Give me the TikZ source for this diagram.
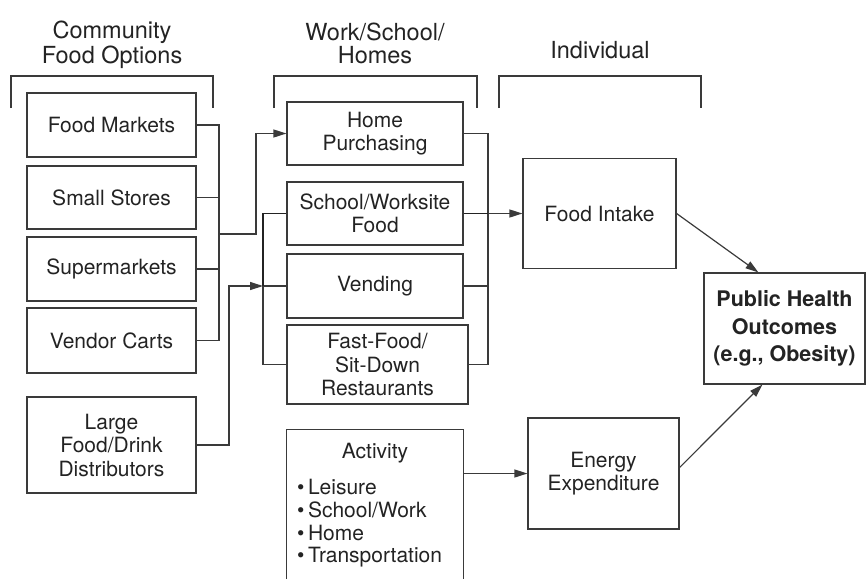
\documentclass[tikz,border=0pt]{standalone}
\usepackage{fontspec}
\setmainfont{TeX Gyre Heros}
\usetikzlibrary{arrows.meta}
\definecolor{ink}{HTML}{232323}
\definecolor{linegray}{HTML}{3a3a3a}
\begin{document}
\begin{tikzpicture}[x=1pt,y=-1pt,
  box/.style={draw=linegray, line width=1.2pt, inner sep=0pt, align=center,
    text=ink, font=\fontsize{21}{23.5}\selectfont},
  head/.style={inner sep=0pt, anchor=base, text=ink, font=\fontsize{23.5}{27}\selectfont},
  item/.style={inner sep=0pt, anchor=base west, text=ink, font=\fontsize{21}{23.5}\selectfont},
  link/.style={draw=linegray, line width=1.2pt},
  heavy/.style={draw=ink, line width=1.7pt},
  tip/.style={-{Triangle[length=13pt,width=8pt]}}
]
\useasboundingbox (0,0) rectangle (866,579);

% column headings
\node[head] (hcomA) at (112,38) {Community};
\node[head] (hcomB) at (112,63) {Food Options};
\node[head] (hwsA) at (375,40) {Work/School/};
\node[head] (hwsB) at (375,63) {Homes};
\node[head] (hind) at (600,58) {Individual};

% brackets under the headings
\draw[link] (11,108) |- (213,76) -- (213,108);
\draw[link] (274,108) |- (477,76) -- (477,108);
\draw[link] (499,108) |- (701,76) -- (701,108);

% community food options
\node[box, minimum width=169pt, minimum height=64pt] (fm) at (111.5,125) {Food Markets};
\node[box, minimum width=169pt, minimum height=63pt] (ss) at (111.5,197.5) {Small Stores};
\node[box, minimum width=169pt, minimum height=64pt] (sm) at (111.5,269) {Supermarkets};
\node[box, minimum width=169pt, minimum height=65pt] (vc) at (111.5,340.5) {Vendor Carts};
\node[box, minimum width=169pt, minimum height=96pt] (lf) at (111.5,445) {Large\\Food/Drink\\Distributors};

% work / school / homes
\node[box, minimum width=176pt, minimum height=63pt] (hp) at (375,133.5) {Home\\Purchasing};
\node[box, minimum width=176pt, minimum height=63pt] (sw) at (375,213.5) {School/Worksite\\Food};
\node[box, minimum width=176pt, minimum height=64pt] (vd) at (375,286) {Vending};
\node[box, minimum width=181pt, minimum height=79pt] (ff) at (377.5,364.5) {Fast-Food/\\Sit-Down\\Restaurants};

% activity box, open at the bottom
\node[inner sep=0pt, minimum width=176pt, minimum height=149pt] (act) at (375,504.5) {};
\draw[link] (act.south west) |- (act.north) -| (act.south east);
\node[head, font=\fontsize{21}{23.5}\selectfont] (acttitle) at (375,458) {Activity};
\node[item] (actA) at (297,494.5) {\textbullet\hspace{3.5pt}Leisure};
\node[item] (actB) at (297,517.5) {\textbullet\hspace{3.5pt}School/Work};
\node[item] (actC) at (297,540) {\textbullet\hspace{3.5pt}Home};
\node[item] (actD) at (297,562.5) {\textbullet\hspace{3.5pt}Transportation};

% individual level and outcome
\node[box, minimum width=153pt, minimum height=110pt] (fi) at (599.5,213.5) {Food Intake};
\node[box, minimum width=151pt, minimum height=111pt] (ee) at (603.5,473.5) {Energy\\Expenditure};
\node[box, minimum width=161pt, minimum height=111pt, font=\fontsize{21.5}{27.5}\selectfont\bfseries] (ph) at (784.5,328.5) {Public Health\\Outcomes\\(e.g., Obesity)};

% community options merge into home purchasing
\coordinate (busL) at (219,234);
\coordinate (jogL) at (256,234);
\draw[link] (fm.east) -| (busL);
\draw[link] (vc.east) -| (busL);
\draw[link] (ss.east) -- (ss.east -| busL);
\draw[link] (sm.east) -- (sm.east -| busL);
\draw[link, tip] (busL) -- (jogL) |- (hp.west);

% distributors feed school, vending and restaurants
\coordinate (busM) at (263,286);
\coordinate (riseD) at (229,286);
\draw[link] (ff.west) -| (busM);
\draw[link] (vd.west) -- (busM);
\draw[heavy] (sw.west) -| (busM);
\draw[link, tip] (lf.east) -| (riseD) -- (busM);

% settings combine into food intake
\coordinate (busR) at (488,213.5);
\draw[link] (hp.east) -| (busR);
\draw[link] (ff.east) -| (busR);
\draw[link] (vd.east) -- (vd.east -| busR);
\draw[heavy] (sw.east) -- (busR);
\draw[link, tip] (busR) -- (fi.west);

% activity to energy expenditure, both to outcomes
\draw[link, tip] (ee.west -| act.east) -- (ee.west);
\draw[link, tip] (fi.east) -- ([xshift=55pt]ph.north west);
\draw[link, tip] ([yshift=6pt]ee.east) -- ([xshift=59pt]ph.south west);
\end{tikzpicture}
\end{document}
